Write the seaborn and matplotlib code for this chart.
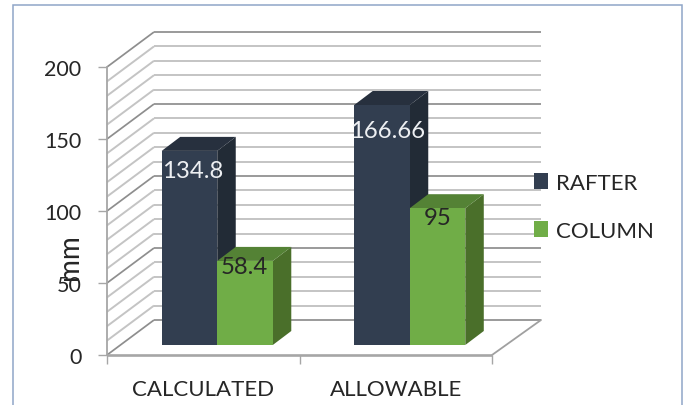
import matplotlib
matplotlib.use("Agg")
import matplotlib.pyplot as plt
import pandas as pd
import seaborn as sns
from matplotlib.patches import Polygon, Rectangle
from matplotlib.transforms import Affine2D

# Chart values
categories = ["CALCULATED", "ALLOWABLE"]
rafter = [134.8, 166.66]
column = [58.4, 95]
series_names = ["RAFTER", "COLUMN"]
value_ticks = [0, 50, 100, 150, 200]

# Face colours: front, side, top
shades = {
    "RAFTER": ("#323E50", "#222B36", "#27303E"),
    "COLUMN": ("#70AD47", "#4A6F2A", "#548235"),
}

W, H = 686, 406
sns.set_theme(style="white")
plt.rcParams["font.family"] = ["Lato", "DejaVu Sans"]
TEXT = "#262626"

fig = plt.figure(figsize=(W / 100, H / 100), dpi=100, facecolor="white")
# Axes rectangle is the front plane of the 3D box
left, right, bottom, top = 107, 492, 356, 68
ax = fig.add_axes([left / W, 1 - bottom / H, (right - left) / W, (bottom - top) / H])
ax.patch.set_alpha(0)

px_x = (right - left) / 2.0  # pixels per category
px_y = (bottom - top) / 200.0  # pixels per unit


def ox(p):
    return p / px_x


def oy(p):
    return p / px_y


frame = pd.DataFrame({
    "category": categories * 2,
    "series": [series_names[0]] * 2 + [series_names[1]] * 2,
    "value": rafter + column,
})
sns.barplot(data=frame, x="category", y="value", hue="series", order=categories,
            hue_order=series_names, palette={k: v[0] for k, v in shades.items()},
            width=0.577, saturation=1, linewidth=0, ax=ax)

ax.set_xlim(-0.5, 1.5)
ax.set_ylim(0, 200)

# Back wall, side wall and floor of the box
back_x, back_y = ox(47), oy(35)
x0, x1 = -0.5, 1.5
back_right = x1 + ox(49)
for v in range(0, 201, 10):
    major = v % 50 == 0
    col = "#8E8E8E" if major else "#C4C4C4"
    lw = 1.25 if major else 1.4
    ax.plot([x0 + back_x, back_right], [v + back_y, v + back_y], color=col, lw=lw,
            clip_on=False, zorder=1, solid_capstyle="butt")
    ax.plot([x0, x0 + back_x], [v, v + back_y], color=col, lw=lw,
            clip_on=False, zorder=1, solid_capstyle="butt")
ax.plot([x1, back_right], [0, back_y], color="#A0A0A0", lw=1.3, clip_on=False, zorder=1)
ax.plot([x0, x1], [0, 0], color="#A6A6A6", lw=1.9, clip_on=False, zorder=1.5,
        solid_capstyle="butt")

# Bars sit part way into the box, with visible side and top faces
shift = Affine2D().translate(ox(14), oy(10)) + ax.transData
dx, dy = ox(18.5), oy(14)
names_by_container = list(zip(ax.containers, series_names))
for layer, (container, name) in enumerate(names_by_container):
    front, side, roof = shades[name]
    for rect in container:
        rect.set_transform(shift)
        rect.set_zorder(3 + 2 * layer)
        rect.set_clip_on(False)
        xa, xb = rect.get_x(), rect.get_x() + rect.get_width()
        h = rect.get_height()
        ax.add_patch(Polygon([(xb, 0), (xb + dx, dy), (xb + dx, h + dy), (xb, h)],
                             facecolor=side, edgecolor="none", transform=shift,
                             clip_on=False, zorder=2 + 2 * layer))
        ax.add_patch(Polygon([(xa, h), (xa + dx, h + dy), (xb + dx, h + dy), (xb, h)],
                             facecolor=roof, edgecolor="none", transform=shift,
                             clip_on=False, zorder=2 + 2 * layer))

# Value labels on the bar fronts (pixel nudges from each bar's centre and top)
label_nudges = {"RAFTER": [(3, 20), (6, 25)], "COLUMN": [(-1, 6), (0, 9)]}
label_colors = {"RAFTER": "#EDEFF2", "COLUMN": TEXT}
for container, name in names_by_container:
    for rect, (nx, ny) in zip(container, label_nudges[name]):
        h = rect.get_height()
        cx = rect.get_x() + rect.get_width() / 2
        ax.text(cx + ox(nx), h - oy(ny), f"{h:g}", transform=shift, ha="center",
                va="center", fontsize=17.2, color=label_colors[name], zorder=8)

# Axes furniture
sns.despine(ax=ax, top=True, right=True, bottom=True, left=False)
ax.spines["left"].set_color("#A6A6A6")
ax.spines["left"].set_linewidth(1.3)
ax.set_yticks(value_ticks)
ax.set_yticklabels([str(v) for v in value_ticks], fontsize=15.5, color=TEXT)
ax.tick_params(axis="y", length=6.5, width=1, color="#A6A6A6", pad=12, left=True)
ax.set_xticks([-0.5, 0.5, 1.5], labels=[])
ax.tick_params(axis="x", length=6.5, width=1, color="#A6A6A6", bottom=True)
ax.set_xlabel("")
ax.set_ylabel("")
fig.text(70 / W, 1 - 257 / H, "mm", rotation=90, ha="center", va="center",
         fontsize=20, color=TEXT, zorder=9)
for name, x_px in zip(categories, [203, 396]):
    fig.text(x_px / W, 1 - 390.5 / H, name, ha="center", va="center", fontsize=16,
             color=TEXT)

# Legend to the right of the box
handles, labels = ax.get_legend_handles_labels()
ax.legend(handles, labels, loc="center left", bbox_to_anchor=(534 / W, 1 - 208 / H),
          bbox_transform=fig.transFigure, frameon=False, fontsize=16, ncols=1,
          handlelength=0.65, handleheight=0.7, handletextpad=0.32, labelspacing=1.26,
          borderpad=0, borderaxespad=0, labelcolor=TEXT)

# Chart border running off the lower edge
fig.add_artist(Rectangle((12.5 / W, -0.05), (682 - 12.5) / W, 1.05 - 5.5 / H,
                         transform=fig.transFigure, fill=False,
                         edgecolor="#8FA6C8", lw=1.1))

fig.savefig("out.png", dpi=100)
